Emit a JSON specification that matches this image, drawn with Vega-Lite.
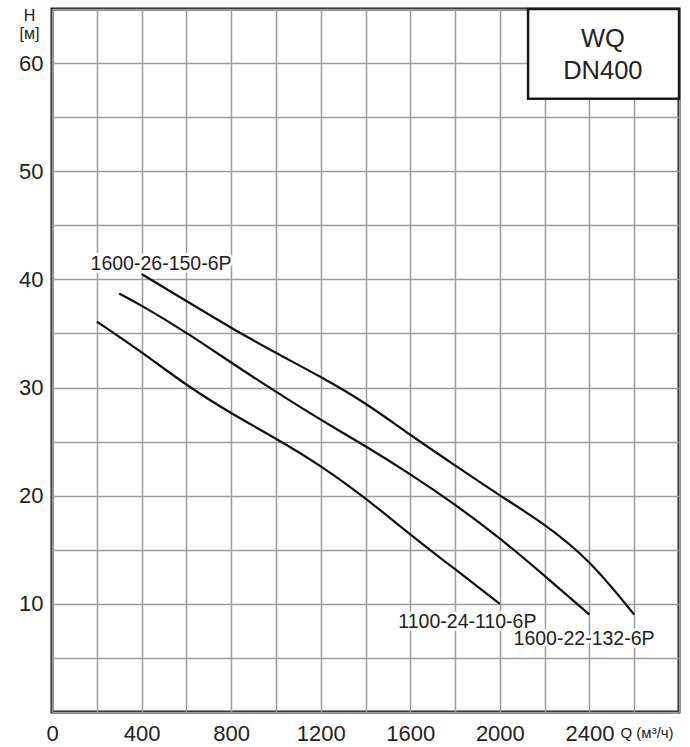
{
  "$schema": "https://vega.github.io/schema/vega-lite/v6.json",
  "width": 627,
  "height": 703,
  "autosize": {"type": "none"},
  "padding": {"left": 52, "top": 9, "right": 11, "bottom": 35},
  "background": "white",
  "config": {
    "font": "Liberation Sans",
    "view": {"stroke": "#1a1a1a", "strokeWidth": 3},
    "axis": {
      "grid": true,
      "gridColor": "#9c9c9c",
      "gridWidth": 1.5,
      "gridOpacity": 1,
      "ticks": false,
      "domain": false,
      "labelFlush": false,
      "labelFont": "Liberation Sans",
      "labelFontSize": 22,
      "labelColor": "#222222",
      "titleFont": "Liberation Sans",
      "titleColor": "#222222",
      "titleFontWeight": "normal"
    }
  },
  "datasets": {
    "curves": [
      {"pump": "1600-26-150-6P", "Q": 400, "H": 40.5},
      {"pump": "1600-26-150-6P", "Q": 600, "H": 38.0},
      {"pump": "1600-26-150-6P", "Q": 800, "H": 35.5},
      {"pump": "1600-26-150-6P", "Q": 1000, "H": 33.2},
      {"pump": "1600-26-150-6P", "Q": 1200, "H": 31.0},
      {"pump": "1600-26-150-6P", "Q": 1400, "H": 28.6},
      {"pump": "1600-26-150-6P", "Q": 1600, "H": 25.6},
      {"pump": "1600-26-150-6P", "Q": 1800, "H": 22.8},
      {"pump": "1600-26-150-6P", "Q": 2000, "H": 20.0},
      {"pump": "1600-26-150-6P", "Q": 2200, "H": 17.4},
      {"pump": "1600-26-150-6P", "Q": 2400, "H": 14.1},
      {"pump": "1600-26-150-6P", "Q": 2600, "H": 9.0},
      {"pump": "1600-22-132-6P", "Q": 300, "H": 38.7},
      {"pump": "1600-22-132-6P", "Q": 400, "H": 37.6},
      {"pump": "1600-22-132-6P", "Q": 600, "H": 35.1},
      {"pump": "1600-22-132-6P", "Q": 800, "H": 32.3},
      {"pump": "1600-22-132-6P", "Q": 1000, "H": 29.6},
      {"pump": "1600-22-132-6P", "Q": 1200, "H": 27.0},
      {"pump": "1600-22-132-6P", "Q": 1400, "H": 24.6},
      {"pump": "1600-22-132-6P", "Q": 1600, "H": 22.0},
      {"pump": "1600-22-132-6P", "Q": 1800, "H": 19.2},
      {"pump": "1600-22-132-6P", "Q": 2000, "H": 16.1},
      {"pump": "1600-22-132-6P", "Q": 2200, "H": 12.6},
      {"pump": "1600-22-132-6P", "Q": 2400, "H": 9.0},
      {"pump": "1100-24-110-6P", "Q": 200, "H": 36.1},
      {"pump": "1100-24-110-6P", "Q": 400, "H": 33.3},
      {"pump": "1100-24-110-6P", "Q": 600, "H": 30.2},
      {"pump": "1100-24-110-6P", "Q": 800, "H": 27.6},
      {"pump": "1100-24-110-6P", "Q": 1000, "H": 25.3},
      {"pump": "1100-24-110-6P", "Q": 1200, "H": 22.8},
      {"pump": "1100-24-110-6P", "Q": 1400, "H": 19.8},
      {"pump": "1100-24-110-6P", "Q": 1600, "H": 16.4},
      {"pump": "1100-24-110-6P", "Q": 1800, "H": 13.2},
      {"pump": "1100-24-110-6P", "Q": 2000, "H": 10.0}
    ],
    "labels": [
      {"pump": "1600-26-150-6P", "Q": 487, "H": 40.9},
      {"pump": "1100-24-110-6P", "Q": 1855, "H": 7.8},
      {"pump": "1600-22-132-6P", "Q": 2376, "H": 6.15}
    ]
  },
  "layer": [
    {
      "data": {"name": "curves"},
      "mark": {"type": "line", "color": "#111111", "strokeWidth": 2.2, "interpolate": "basis"},
      "encoding": {
        "x": {
          "field": "Q",
          "type": "quantitative",
          "scale": {"domain": [0, 2800], "nice": false, "zero": true},
          "axis": {
            "values": [0, 200, 400, 600, 800, 1000, 1200, 1400, 1600, 1800, 2000, 2200, 2400, 2600, 2800],
            "format": "d",
            "labelExpr": "datum.value % 400 == 0 && datum.value < 2800 ? datum.label : ''",
            "labelPadding": 11,
            "labelBaseline": "top",
            "title": "Q (м³/ч)",
            "titleFontSize": 15,
            "titleAnchor": null,
            "titleAlign": "left",
            "titleBaseline": "alphabetic",
            "titleX": 568,
            "titleY": 25
          }
        },
        "y": {
          "field": "H",
          "type": "quantitative",
          "scale": {"domain": [0, 65], "nice": false, "zero": true},
          "axis": {
            "values": [0, 5, 10, 15, 20, 25, 30, 35, 40, 45, 50, 55, 60, 65],
            "format": "d",
            "labelExpr": "datum.value % 10 == 0 && datum.value > 0 && datum.value < 65 ? datum.label : ''",
            "labelPadding": 9,
            "title": ["H", "[м]"],
            "titleFontSize": 16,
            "titleLineHeight": 18,
            "titleAngle": 0,
            "titleAnchor": null,
            "titleAlign": "center",
            "titleBaseline": "top",
            "titleX": -23,
            "titleY": -2
          }
        },
        "detail": {"field": "pump", "type": "nominal"}
      }
    },
    {
      "data": {"name": "labels"},
      "mark": {"type": "text", "fontSize": 19.5, "align": "center", "baseline": "alphabetic", "stroke": "white", "strokeWidth": 6, "fill": "white", "strokeJoin": "round"},
      "encoding": {
        "x": {"field": "Q", "type": "quantitative"},
        "y": {"field": "H", "type": "quantitative"},
        "text": {"field": "pump"}
      }
    },
    {
      "data": {"name": "labels"},
      "mark": {"type": "text", "fontSize": 19.5, "align": "center", "baseline": "alphabetic", "fill": "#222222"},
      "encoding": {
        "x": {"field": "Q", "type": "quantitative"},
        "y": {"field": "H", "type": "quantitative"},
        "text": {"field": "pump"}
      }
    },
    {
      "data": {"values": [{"series": "WQ", "size": "DN400"}]},
      "mark": {"type": "rect", "fill": "white", "stroke": "#1a1a1a", "strokeWidth": 2.5},
      "encoding": {
        "x": {"datum": 2126, "type": "quantitative"},
        "x2": {"datum": 2800},
        "y": {"datum": 56.7, "type": "quantitative"},
        "y2": {"datum": 65}
      }
    },
    {
      "data": {"values": [{"line": "WQ", "Q": 2460, "H": 61.47}, {"line": "DN400", "Q": 2460, "H": 58.55}]},
      "mark": {"type": "text", "fontSize": 25.5, "align": "center", "baseline": "alphabetic", "fill": "#222222"},
      "encoding": {
        "x": {"field": "Q", "type": "quantitative"},
        "y": {"field": "H", "type": "quantitative"},
        "text": {"field": "line"}
      }
    }
  ]
}
